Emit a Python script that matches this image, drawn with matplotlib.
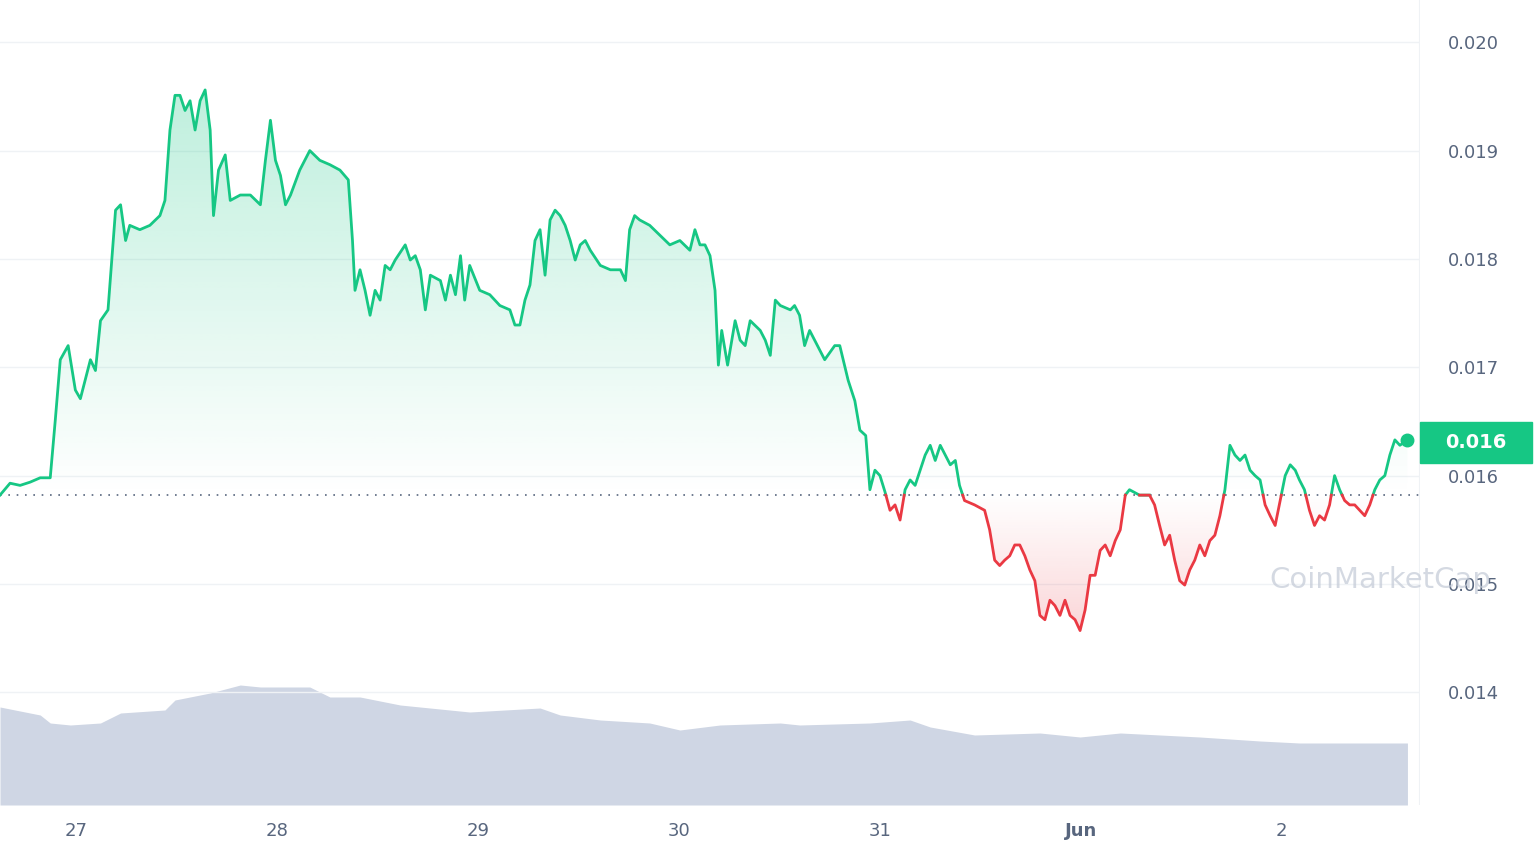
import numpy as np
import matplotlib.pyplot as plt
from matplotlib.patches import Rectangle
from matplotlib.colors import to_rgb

# hours since 27 May 00:00
hours = [-9.1,-7.9,-6.7,-5.5,-4.3,-3.1,-2.5,-1.9,-0.96,-0.1,0.5,1.7,2.3,2.9,3.8,4.7,5.3,5.9,6.4,7.6,8.8,10.0,10.6,11.2,11.8,12.4,13.0,13.6,14.2,14.8,15.4,16.0,16.4,17.0,17.8,18.4,19.6,20.8,22.0,22.6,23.2,23.8,24.4,25.0,25.6,26.7,27.9,29.1,30.3,31.5,32.5,33.0,33.3,33.9,34.5,35.1,35.7,36.3,36.9,37.5,38.1,39.3,39.9,40.5,41.1,41.7,42.3,43.5,44.1,44.7,45.3,45.9,46.4,47.0,48.2,49.4,50.6,51.8,52.4,53.0,53.6,54.2,54.8,55.4,56.0,56.6,57.2,57.8,58.4,59.0,59.6,60.2,60.8,61.4,62.6,63.8,65.0,65.6,66.1,66.7,67.3,68.5,69.7,70.9,72.1,73.3,73.9,74.5,75.1,75.7,76.3,76.7,77.1,77.8,78.7,79.3,79.9,80.5,81.7,82.3,82.9,83.5,84.1,85.3,85.8,86.4,87.0,87.6,88.2,89.4,90.6,91.2,92.2,93.0,93.6,94.3,94.8,95.4,96.0,96.6,97.2,97.8,98.4,99.0,99.6,100.2,100.8,101.4,102.0,102.6,103.2,103.8,104.4,105.0,105.5,106.1,107.3,108.5,109.1,109.7,110.3,110.9,111.5,112.1,112.7,113.3,113.9,114.5,115.1,115.7,116.3,116.9,117.5,118.1,118.7,119.3,119.9,120.5,121.1,121.7,122.3,122.9,123.5,124.1,124.7,125.3,125.8,127.0,128.2,128.8,129.4,130.0,130.6,131.2,131.8,132.4,133.0,133.6,134.2,134.8,135.4,136.0,136.6,137.2,137.8,138.4,139.0,139.6,140.2,140.8,141.4,142.0,142.6,143.2,143.8,144.4,145.0,145.6,146.1,146.7,147.3,147.9,148.5,149.1,149.7,150.3,150.9,151.5,152.1,152.7,153.3,153.9,154.5,155.1,155.7,156.3,156.9,157.5,158.1,159.0]

price = [0.01582,0.01593,0.01591,0.01594,0.01598,0.01598,0.01651,0.01707,0.01720,0.01679,0.01671,0.01707,0.01697,0.01743,0.01753,0.01845,0.01850,0.01817,0.01831,0.01827,0.01831,0.01840,0.01854,0.01919,0.01951,0.01951,0.01937,0.01946,0.01919,0.01946,0.01956,0.01919,0.01840,0.01882,0.01896,0.01854,0.01859,0.01859,0.01850,0.01891,0.01928,0.01891,0.01877,0.01850,0.01859,0.01882,0.01900,0.01891,0.01887,0.01882,0.01873,0.01817,0.01771,0.01790,0.01771,0.01748,0.01771,0.01762,0.01794,0.01790,0.01799,0.01813,0.01799,0.01803,0.01790,0.01753,0.01785,0.01780,0.01762,0.01785,0.01767,0.01803,0.01762,0.01794,0.01771,0.01767,0.01757,0.01753,0.01739,0.01739,0.01762,0.01776,0.01817,0.01827,0.01785,0.01836,0.01845,0.01840,0.01831,0.01817,0.01799,0.01813,0.01817,0.01808,0.01794,0.01790,0.01790,0.01780,0.01827,0.01840,0.01836,0.01831,0.01822,0.01813,0.01817,0.01808,0.01827,0.01813,0.01813,0.01803,0.01771,0.01702,0.01734,0.01702,0.01743,0.01725,0.01720,0.01743,0.01734,0.01725,0.01711,0.01762,0.01757,0.01753,0.01757,0.01748,0.01720,0.01734,0.01725,0.01707,0.01720,0.01720,0.01688,0.01669,0.01642,0.01637,0.01587,0.01605,0.01600,0.01585,0.01568,0.01573,0.01559,0.01587,0.01596,0.01591,0.01605,0.01619,0.01628,0.01614,0.01628,0.01619,0.01610,0.01614,0.01591,0.01577,0.01573,0.01568,0.01550,0.01522,0.01517,0.01522,0.01526,0.01536,0.01536,0.01526,0.01513,0.01503,0.01471,0.01467,0.01485,0.01480,0.01471,0.01485,0.01471,0.01467,0.01457,0.01476,0.01508,0.01508,0.01531,0.01536,0.01526,0.01540,0.01550,0.01582,0.01587,0.01582,0.01582,0.01573,0.01554,0.01536,0.01545,0.01522,0.01503,0.01499,0.01513,0.01522,0.01536,0.01526,0.01540,0.01545,0.01563,0.01587,0.01628,0.01619,0.01614,0.01619,0.01605,0.01600,0.01596,0.01573,0.01563,0.01554,0.01577,0.01600,0.01610,0.01605,0.01596,0.01587,0.01568,0.01554,0.01563,0.01559,0.01573,0.01600,0.01587,0.01577,0.01573,0.01573,0.01568,0.01563,0.01573,0.01587,0.01596,0.01600,0.01619,0.01633,0.01628,0.01633]

vol_hours = [-9.1,-4.3,-3.1,-0.7,2.9,5.3,10.6,11.8,16.0,19.6,22.0,27.9,30.3,33.9,38.7,47.0,55.4,57.8,62.6,68.5,72.1,76.9,84.1,86.4,94.8,99.6,102.0,107.3,115.1,119.9,124.7,134.2,141.4,146.1,159.0]
volume = [98,90,82,80,82,92,95,105,112,120,118,118,108,108,100,93,97,90,85,82,75,80,82,80,82,85,78,70,72,68,72,68,64,62,62]

ticks_h = [0, 24, 48, 72, 96, 120, 144]
tick_labels = ['27', '28', '29', '30', '31', 'Jun', '2']
yticks = [0.014, 0.015, 0.016, 0.017, 0.018, 0.019, 0.020]
base = 0.01582
last_label = '0.016'

GREEN = '#16c784'
RED = '#ea3943'
GRAY = '#58667e'

t = np.array(hours)
p = np.array(price)

# insert crossing points so the colour switches exactly at the baseline
tt, pp = [t[0]], [p[0]]
for i in range(1, len(t)):
    a, b = p[i-1] - base, p[i] - base
    if a * b < 0:
        tc = t[i-1] + (t[i] - t[i-1]) * a / (a - b)
        tt.append(tc); pp.append(base)
    tt.append(t[i]); pp.append(p[i])
tt, pp = np.array(tt), np.array(pp)

fig = plt.figure(figsize=(15.36, 8.64), dpi=100)
ax = fig.add_axes([0, 59 / 864, 1420 / 1536, 805 / 864])
ax.set_xlim(-9.1, 160.5)
ax.set_ylim(0.01296, 0.02039)

# volume on twin axis
axv = ax.twinx()
axv.set_ylim(0, 805)
axv.fill_between(vol_hours, volume, 0, color='#cfd6e4', lw=0)
axv.set_yticks([])
axv.set_zorder(0)
ax.set_zorder(1)
ax.patch.set_visible(False)

for y in yticks:
    ax.axhline(y, color='#eff2f5', lw=1, zorder=0)

# gradient fills
def grad(color, y0, y1, top_alpha, above):
    rgb = to_rgb(color)
    n = 256
    img = np.zeros((n, 2, 4))
    img[:, :, :3] = rgb
    if above:
        img[:, :, 3] = np.linspace(top_alpha, 0.0, n)[:, None]
        poly = ax.fill_between(tt, np.maximum(pp, base), base, color='none', lw=0)
    else:
        img[:, :, 3] = np.linspace(0.0, top_alpha, n)[:, None]
        poly = ax.fill_between(tt, np.minimum(pp, base), base, color='none', lw=0)
    im = ax.imshow(img, extent=[tt[0], tt[-1], y0, y1], origin='upper', aspect='auto', zorder=1)
    im.set_clip_path(poly.get_paths()[0], transform=ax.transData)

grad(GREEN, base, 0.0196, 0.28, True)
grad(RED, 0.0145, base, 0.22, False)

up = np.where(pp >= base, pp, np.nan)
dn = np.where(pp <= base, pp, np.nan)
ax.plot(tt, up, color=GREEN, lw=2, zorder=3)
ax.plot(tt, dn, color=RED, lw=2, zorder=3)
ax.plot([tt[-1]], [pp[-1]], 'o', color=GREEN, ms=9, zorder=4)

ax.axhline(base, color='#58667e', lw=1.2, ls=(0, (1, 4)), zorder=2)
ax.axvline(160.5, color='#eff2f5', lw=1.5)

for s in list(ax.spines.values()) + list(axv.spines.values()):
    s.set_visible(False)

ax.set_yticks(yticks)
ax.set_yticklabels(['%.3f' % y for y in yticks])
ax.yaxis.tick_right()
ax.tick_params(axis='y', length=0, pad=20, labelsize=13, labelcolor=GRAY)
ax.set_xticks(ticks_h)
ax.set_xticklabels(tick_labels)
ax.tick_params(axis='x', length=0, pad=12, labelsize=13, labelcolor=GRAY)
for lab in ax.get_xticklabels():
    if lab.get_text() == 'Jun':
        lab.set_fontweight('bold')

# current price badge
fig.patches.append(Rectangle((1420 / 1536, 1 - 463 / 864), 112 / 1536, 41 / 864,
                             transform=fig.transFigure, color=GREEN, zorder=5))
fig.text(1476 / 1536, 1 - 442 / 864, last_label, color='white', fontsize=14,
         fontweight='bold', ha='center', va='center', zorder=6)

fig.text(1380 / 1536, 1 - 580 / 864, 'CoinMarketCap', color='#c3cad6', fontsize=21,
         ha='center', va='center', alpha=0.7)

fig.savefig('out.png', dpi=100)
